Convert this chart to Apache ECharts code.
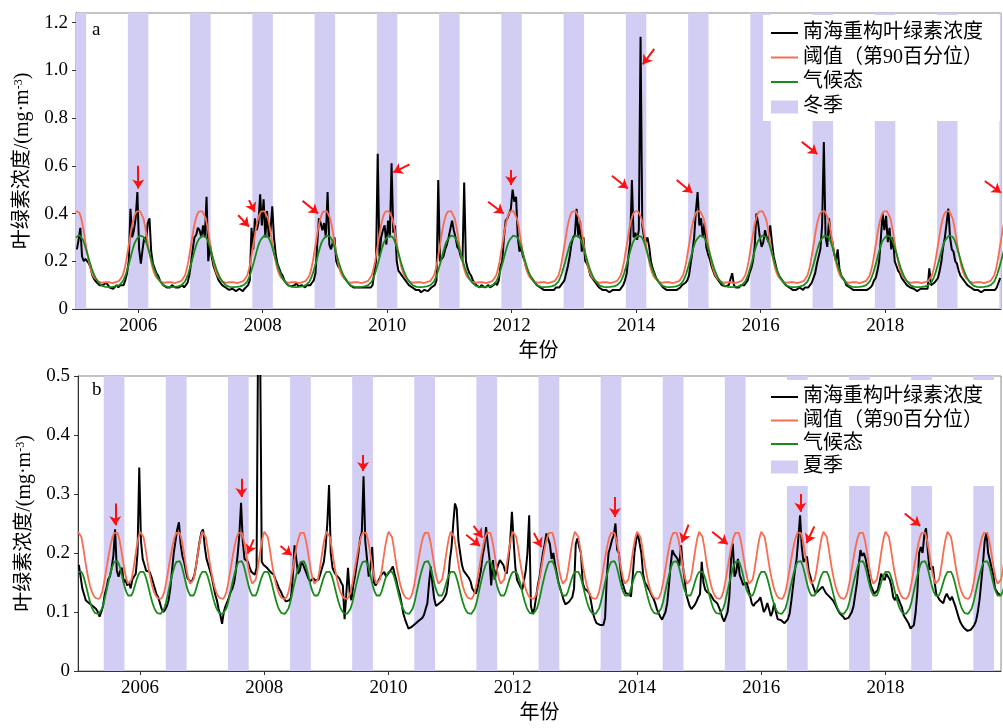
<!DOCTYPE html>
<html>
<head>
<meta charset="utf-8">
<script src="https://cdn.jsdelivr.net/npm/echarts@6/dist/echarts.min.js"></script>
<style>
  html, body { margin: 0; padding: 0; background: #fff; }
  #chart { width: 1003px; height: 728px; }
</style>
</head>
<body>
<div id="chart"></div>
<script>
// ---- time axis ----
const tickYears = [2006, 2008, 2010, 2012, 2014, 2016, 2018];
const firstYear = 2005;
const lastX = 2019.86;
const samplesPerYear = 36;

// ---- annual cycles (36 steps from 1 Jan) ----
// winter-bloom region: 90th percentile threshold and climatology
const thresholdWinter = [0.41,0.41,0.403,0.38,0.345,0.30,0.255,0.215,0.18,0.155,0.138,0.128,0.12,0.115,0.112,0.11,0.11,0.112,
  0.115,0.113,0.11,0.108,0.11,0.113,0.115,0.118,0.125,0.14,0.165,0.20,0.245,0.29,0.335,0.37,0.395,0.408];
const climWinter = [0.30,0.308,0.31,0.302,0.29,0.27,0.245,0.22,0.195,0.172,0.152,0.135,0.122,0.112,0.104,0.098,0.095,0.093,
  0.092,0.092,0.092,0.093,0.094,0.095,0.097,0.10,0.106,0.115,0.13,0.15,0.175,0.20,0.228,0.255,0.278,0.292];
// summer-bloom region: 90th percentile threshold and climatology
const thresholdSummer = [0.236,0.235,0.227,0.21,0.19,0.172,0.157,0.144,0.135,0.128,0.124,0.122,0.122,0.126,0.134,0.148,0.165,0.183,
  0.20,0.215,0.227,0.234,0.237,0.234,0.223,0.207,0.188,0.17,0.156,0.148,0.147,0.155,0.17,0.19,0.21,0.226];
const climSummer = [0.168,0.17,0.168,0.162,0.152,0.14,0.128,0.117,0.108,0.102,0.098,0.097,0.097,0.10,0.106,0.116,0.129,0.143,
  0.156,0.168,0.178,0.185,0.188,0.186,0.179,0.168,0.155,0.143,0.134,0.128,0.126,0.128,0.135,0.145,0.155,0.163];

// ---- reconstructed chlorophyll-a (mg·m^-3), one row per year, 36 samples per year ----
const chlWinterPanel = [
  /*2005*/ [0.25,0.29,0.34,0.22,0.2,0.21,0.2,0.19,0.17,0.14,0.125,0.115,0.11,0.1,0.1,0.1,0.095,0.11,0.1,0.09,0.095,0.085,0.09,0.1,0.09,0.1,0.095,0.1,0.12,0.15,0.2,0.42,0.3,0.33,0.38,0.49],
  /*2006*/ [0.25,0.19,0.25,0.3,0.28,0.36,0.38,0.24,0.19,0.17,0.15,0.14,0.12,0.11,0.1,0.1,0.09,0.085,0.09,0.1,0.095,0.09,0.085,0.09,0.095,0.1,0.09,0.1,0.11,0.14,0.19,0.25,0.3,0.31,0.34,0.33],
  /*2007*/ [0.3,0.35,0.3,0.47,0.2,0.27,0.22,0.18,0.16,0.14,0.12,0.11,0.1,0.095,0.09,0.085,0.08,0.075,0.085,0.08,0.075,0.08,0.085,0.08,0.075,0.085,0.09,0.1,0.12,0.34,0.25,0.38,0.33,0.36,0.48,0.35],
  /*2008*/ [0.46,0.3,0.41,0.3,0.33,0.43,0.3,0.23,0.19,0.17,0.15,0.14,0.12,0.11,0.1,0.1,0.095,0.09,0.1,0.11,0.095,0.09,0.1,0.095,0.09,0.1,0.095,0.1,0.11,0.12,0.15,0.27,0.38,0.36,0.33,0.36],
  /*2009*/ [0.3,0.49,0.27,0.25,0.28,0.3,0.2,0.18,0.17,0.15,0.14,0.13,0.12,0.11,0.1,0.1,0.09,0.085,0.09,0.095,0.09,0.085,0.09,0.085,0.09,0.095,0.09,0.1,0.15,0.2,0.65,0.22,0.3,0.33,0.35,0.27],
  /*2010*/ [0.37,0.3,0.61,0.32,0.35,0.2,0.16,0.15,0.14,0.13,0.12,0.11,0.1,0.095,0.09,0.085,0.08,0.075,0.08,0.07,0.075,0.08,0.085,0.075,0.08,0.09,0.085,0.1,0.12,0.54,0.2,0.21,0.22,0.25,0.27,0.3],
  /*2011*/ [0.3,0.37,0.33,0.3,0.26,0.25,0.22,0.2,0.53,0.2,0.17,0.15,0.14,0.12,0.11,0.1,0.095,0.09,0.1,0.095,0.09,0.095,0.1,0.09,0.095,0.1,0.11,0.1,0.12,0.18,0.2,0.3,0.37,0.38,0.4,0.42],
  /*2012*/ [0.5,0.45,0.47,0.3,0.24,0.26,0.22,0.2,0.17,0.15,0.14,0.13,0.12,0.11,0.1,0.095,0.09,0.085,0.08,0.085,0.08,0.075,0.08,0.085,0.08,0.09,0.085,0.09,0.1,0.11,0.12,0.15,0.18,0.22,0.27,0.3],
  /*2013*/ [0.31,0.42,0.3,0.37,0.24,0.3,0.2,0.19,0.17,0.14,0.13,0.12,0.11,0.1,0.09,0.085,0.08,0.075,0.08,0.075,0.07,0.075,0.08,0.075,0.08,0.085,0.08,0.09,0.1,0.12,0.15,0.22,0.28,0.54,0.3,0.32],
  /*2014*/ [0.29,0.33,1.14,0.35,0.3,0.28,0.3,0.26,0.2,0.17,0.15,0.13,0.12,0.11,0.1,0.09,0.085,0.08,0.075,0.08,0.085,0.08,0.075,0.08,0.085,0.09,0.1,0.095,0.11,0.12,0.14,0.19,0.24,0.3,0.41,0.49],
  /*2015*/ [0.35,0.38,0.3,0.36,0.26,0.23,0.21,0.18,0.16,0.14,0.13,0.12,0.11,0.1,0.1,0.095,0.09,0.1,0.095,0.15,0.1,0.09,0.095,0.09,0.1,0.095,0.1,0.11,0.12,0.15,0.17,0.2,0.26,0.4,0.36,0.3],
  /*2016*/ [0.26,0.28,0.33,0.3,0.28,0.35,0.28,0.22,0.19,0.16,0.14,0.13,0.12,0.11,0.1,0.095,0.09,0.085,0.08,0.085,0.08,0.085,0.09,0.085,0.08,0.09,0.085,0.09,0.1,0.11,0.13,0.15,0.19,0.22,0.25,0.35],
  /*2017*/ [0.7,0.3,0.26,0.38,0.3,0.28,0.23,0.2,0.25,0.17,0.14,0.13,0.12,0.1,0.095,0.09,0.085,0.08,0.075,0.08,0.085,0.08,0.075,0.08,0.085,0.08,0.085,0.09,0.1,0.12,0.13,0.16,0.2,0.3,0.4,0.33],
  /*2018*/ [0.39,0.28,0.34,0.25,0.3,0.2,0.18,0.16,0.15,0.13,0.12,0.11,0.1,0.095,0.09,0.09,0.085,0.08,0.075,0.08,0.085,0.08,0.085,0.08,0.085,0.17,0.1,0.1,0.11,0.12,0.13,0.16,0.2,0.26,0.3,0.36],
  /*2019*/ [0.42,0.3,0.25,0.24,0.2,0.19,0.16,0.14,0.13,0.12,0.11,0.1,0.095,0.09,0.085,0.08,0.075,0.08,0.075,0.07,0.075,0.08,0.075,0.08,0.075,0.08,0.085,0.08,0.09,0.11,0.13]
];
const chlSummerPanel = [
  /*2005*/ [0.18,0.16,0.14,0.13,0.12,0.12,0.115,0.118,0.11,0.112,0.105,0.1,0.092,0.1,0.11,0.13,0.14,0.155,0.16,0.175,0.195,0.24,0.17,0.16,0.17,0.175,0.15,0.155,0.145,0.15,0.14,0.155,0.16,0.165,0.2,0.345],
  /*2006*/ [0.22,0.19,0.18,0.17,0.172,0.168,0.16,0.15,0.14,0.13,0.125,0.115,0.105,0.1,0.104,0.11,0.12,0.14,0.17,0.2,0.22,0.24,0.252,0.215,0.195,0.185,0.17,0.157,0.155,0.15,0.155,0.163,0.18,0.2,0.22,0.235],
  /*2007*/ [0.24,0.21,0.19,0.18,0.17,0.16,0.145,0.13,0.12,0.105,0.095,0.08,0.1,0.11,0.117,0.125,0.134,0.14,0.15,0.17,0.196,0.23,0.285,0.22,0.19,0.19,0.185,0.175,0.168,0.165,0.163,0.175,0.62,0.57,0.185,0.18],
  /*2008*/ [0.18,0.175,0.172,0.168,0.165,0.163,0.155,0.148,0.14,0.135,0.128,0.123,0.118,0.117,0.12,0.125,0.16,0.213,0.19,0.165,0.17,0.185,0.18,0.178,0.165,0.157,0.152,0.15,0.157,0.153,0.15,0.155,0.165,0.175,0.185,0.21],
  /*2009*/ [0.25,0.315,0.2,0.175,0.168,0.163,0.16,0.157,0.15,0.145,0.088,0.13,0.175,0.13,0.12,0.145,0.16,0.18,0.2,0.225,0.235,0.33,0.22,0.19,0.16,0.175,0.21,0.15,0.145,0.15,0.155,0.162,0.165,0.168,0.16,0.158],
  /*2010*/ [0.168,0.172,0.177,0.165,0.154,0.14,0.13,0.115,0.098,0.088,0.08,0.072,0.069,0.075,0.072,0.08,0.078,0.085,0.084,0.09,0.095,0.105,0.115,0.15,0.177,0.145,0.122,0.11,0.112,0.115,0.118,0.12,0.125,0.131,0.15,0.188],
  /*2011*/ [0.21,0.25,0.284,0.275,0.22,0.2,0.18,0.17,0.166,0.165,0.158,0.152,0.14,0.135,0.131,0.14,0.155,0.17,0.195,0.21,0.244,0.215,0.19,0.145,0.188,0.155,0.17,0.18,0.188,0.185,0.18,0.17,0.165,0.19,0.22,0.27],
  /*2012*/ [0.22,0.175,0.154,0.148,0.142,0.138,0.14,0.17,0.2,0.264,0.11,0.098,0.105,0.125,0.145,0.16,0.18,0.2,0.215,0.233,0.236,0.215,0.19,0.2,0.18,0.165,0.15,0.14,0.13,0.12,0.113,0.115,0.117,0.118,0.125,0.14],
  /*2013*/ [0.215,0.225,0.21,0.2,0.15,0.14,0.137,0.135,0.131,0.115,0.098,0.088,0.081,0.079,0.078,0.078,0.078,0.09,0.16,0.2,0.21,0.222,0.23,0.25,0.205,0.2,0.17,0.15,0.14,0.132,0.131,0.13,0.126,0.16,0.2,0.222],
  /*2014*/ [0.233,0.235,0.2,0.165,0.15,0.146,0.14,0.135,0.128,0.123,0.115,0.105,0.098,0.092,0.087,0.088,0.1,0.115,0.145,0.18,0.205,0.198,0.2,0.19,0.178,0.213,0.18,0.158,0.13,0.12,0.11,0.105,0.108,0.112,0.118,0.125],
  /*2015*/ [0.13,0.185,0.15,0.138,0.134,0.133,0.13,0.125,0.12,0.118,0.115,0.108,0.1,0.09,0.084,0.085,0.1,0.125,0.19,0.216,0.16,0.168,0.19,0.163,0.155,0.146,0.148,0.15,0.14,0.128,0.115,0.11,0.115,0.117,0.12,0.125],
  /*2016*/ [0.128,0.1,0.105,0.115,0.105,0.093,0.1,0.115,0.1,0.088,0.086,0.086,0.083,0.081,0.081,0.088,0.098,0.12,0.145,0.17,0.19,0.225,0.264,0.21,0.185,0.185,0.194,0.17,0.16,0.148,0.14,0.132,0.135,0.137,0.14,0.143],
  /*2017*/ [0.142,0.132,0.13,0.126,0.124,0.12,0.115,0.109,0.103,0.098,0.095,0.092,0.088,0.086,0.09,0.092,0.1,0.11,0.13,0.15,0.18,0.205,0.195,0.2,0.19,0.175,0.16,0.145,0.138,0.131,0.133,0.137,0.15,0.165,0.158,0.154],
  /*2018*/ [0.165,0.165,0.155,0.143,0.125,0.12,0.13,0.13,0.115,0.108,0.095,0.09,0.085,0.08,0.072,0.07,0.078,0.1,0.135,0.2,0.21,0.2,0.23,0.242,0.205,0.172,0.175,0.177,0.15,0.13,0.125,0.12,0.118,0.115,0.125,0.131],
  /*2019*/ [0.125,0.12,0.126,0.124,0.11,0.1,0.09,0.082,0.077,0.073,0.07,0.068,0.065,0.07,0.074,0.078,0.085,0.1,0.12,0.15,0.182,0.22,0.235,0.2,0.188,0.175,0.163,0.14,0.14,0.13,0.13]
];

// ---- seasons [start, end] in decimal years ----
const winterBands = [[2004.833,2005.162],[2005.833,2006.162],[2006.833,2007.162],[2007.833,2008.162],[2008.833,2009.162],
  [2009.833,2010.162],[2010.833,2011.162],[2011.833,2012.162],[2012.833,2013.162],[2013.833,2014.162],[2014.833,2015.162],
  [2015.833,2016.162],[2016.833,2017.162],[2017.833,2018.162],[2018.833,2019.162],[2019.833,2020.162]];
const summerBands = [[2005.414,2005.748],[2006.414,2006.748],[2007.414,2007.748],[2008.414,2008.748],[2009.414,2009.748],
  [2010.414,2010.748],[2011.414,2011.748],[2012.414,2012.748],[2013.414,2013.748],[2014.414,2014.748],[2015.414,2015.748],
  [2016.414,2016.748],[2017.414,2017.748],[2018.414,2018.748],[2019.414,2019.748]];

// ---- event arrows [tailX, tailY, headX, headY] ----
const arrowsWinter = [[2006.0,0.60,2006.0,0.505],[2007.605,0.393,2007.78,0.345],[2007.78,0.456,2007.87,0.407],
  [2008.64,0.453,2008.89,0.40],[2010.36,0.606,2010.10,0.572],[2011.99,0.582,2011.99,0.519],[2011.62,0.449,2011.87,0.40],
  [2013.61,0.558,2013.865,0.505],[2014.29,1.09,2014.106,1.025],[2014.65,0.54,2014.90,0.487],[2016.66,0.70,2016.91,0.649],
  [2019.6,0.536,2019.86,0.487]];
const arrowsSummer = [[2005.60,0.284,2005.60,0.247],[2007.63,0.326,2007.63,0.295],[2007.83,0.223,2007.73,0.199],
  [2008.26,0.212,2008.44,0.196],[2009.59,0.366,2009.59,0.339],[2011.37,0.246,2011.51,0.226],[2011.25,0.231,2011.47,0.212],
  [2012.34,0.234,2012.46,0.21],[2013.645,0.295,2013.645,0.261],[2014.83,0.248,2014.72,0.218],[2015.21,0.236,2015.46,0.215],
  [2016.63,0.30,2016.63,0.27],[2016.855,0.245,2016.73,0.217],[2018.31,0.267,2018.56,0.246]];

// ---- styling ----
const serif = "'Liberation Serif', 'Noto Sans CJK SC', serif";
const bandColor = 'rgb(210,205,243)';
const redColor = '#f86c51';
const greenColor = '#1a8a1a';
const axisColor = '#333';

const NAME_CHL = '南海重构叶绿素浓度';
const NAME_THR = '阈值（第90百分位）';
const NAME_CLIM = '气候态';

function chlPoints(rows) {
  const pts = [];
  rows.forEach((row, i) => row.forEach((v, k) => pts.push([firstYear + i + (k + 0.5) / samplesPerYear, v])));
  return pts;
}
function cyclePoints(cycle, nYears) {
  const pts = [];
  for (let i = 0; i < nYears; i++) cycle.forEach((v, k) => pts.push([firstYear + i + k / cycle.length, v]));
  pts.push([firstYear + nYears, cycle[0]]);
  return pts;
}
function bandRenderer(params, api) {
  const cs = params.coordSys;
  const x0 = api.coord([api.value(0), 0])[0];
  const x1 = api.coord([api.value(1), 0])[0];
  const l = Math.max(x0, cs.x), r = Math.min(x1, cs.x + cs.width);
  if (r <= l) return;
  return { type: 'rect', shape: { x: l, y: cs.y, width: r - l, height: cs.height },
           style: { fill: bandColor } };
}
function timeAxis(gridIndex) {
  return {
    type: 'value', gridIndex, min: firstYear, max: lastX,
    name: '年份', nameLocation: 'middle', nameGap: 33,
    nameTextStyle: { fontFamily: serif, fontSize: 20, color: '#000' },
    axisLine: { show: true, onZero: false, lineStyle: { color: axisColor, width: 1 } },
    axisTick: { show: true, customValues: tickYears, length: 4, lineStyle: { color: axisColor } },
    axisLabel: { customValues: tickYears, fontFamily: serif, fontSize: 19, color: '#000', margin: 8,
      formatter: v => String(Math.round(v)) },
    splitLine: { show: false }
  };
}
function chlAxis(gridIndex, max, interval, showMax) {
  return {
    type: 'value', gridIndex, min: 0, max, interval,
    name: '叶绿素浓度/(mg·m{sup|-3})', nameLocation: 'middle', nameGap: 43,
    nameTextStyle: { fontFamily: serif, fontSize: 20, color: '#000',
      rich: { sup: { fontFamily: serif, fontSize: 12, color: '#000', verticalAlign: 'top' } } },
    axisLine: { show: true, lineStyle: { color: axisColor, width: 1 } },
    axisTick: { show: true, length: 4, lineStyle: { color: axisColor } },
    axisLabel: { fontFamily: serif, fontSize: 19, color: '#000', margin: 8, showMaxLabel: showMax,
      formatter: v => (v === 0 ? '0' : v.toFixed(1)) },
    splitLine: { show: false }
  };
}
const legendText = { fontFamily: serif, fontSize: 20, color: '#000', lineHeight: 20 };
function lineLegend(top, gap) {
  return {
    orient: 'vertical', left: 771, top, padding: 0, itemWidth: 27, itemHeight: 2, itemGap: gap,
    icon: 'rect', textStyle: legendText, data: [NAME_CHL, NAME_THR, NAME_CLIM], selectedMode: false, z: 200
  };
}
function seasonLegend(top, name) {
  return {
    orient: 'vertical', left: 771, top, padding: 0, itemWidth: 27, itemHeight: 13,
    icon: 'rect', textStyle: legendText, data: [name], selectedMode: false, z: 200
  };
}
function panelSeries(idx, seasonName, bands, chlRows, thr, clim, arrows) {
  const nYears = chlRows.length;
  return [
    { type: 'custom', name: seasonName, xAxisIndex: idx, yAxisIndex: idx, data: bands,
      renderItem: bandRenderer, itemStyle: { color: bandColor }, silent: true, z: 1 },
    { type: 'line', name: NAME_CHL, xAxisIndex: idx, yAxisIndex: idx, data: chlPoints(chlRows),
      symbol: 'none', showSymbol: false, lineStyle: { color: '#000', width: 2 }, itemStyle: { color: '#000' }, z: 2 },
    { type: 'line', name: NAME_THR, xAxisIndex: idx, yAxisIndex: idx, data: cyclePoints(thr, nYears),
      symbol: 'none', showSymbol: false, lineStyle: { color: redColor, width: 1.8 }, itemStyle: { color: redColor }, z: 3 },
    { type: 'line', name: NAME_CLIM, xAxisIndex: idx, yAxisIndex: idx, data: cyclePoints(clim, nYears),
      symbol: 'none', showSymbol: false, lineStyle: { color: greenColor, width: 1.8 }, itemStyle: { color: greenColor }, z: 4 },
    { type: 'lines', coordinateSystem: 'cartesian2d', xAxisIndex: idx, yAxisIndex: idx,
      data: arrows.map(a => ({ coords: [[a[0], a[1]], [a[2], a[3]]] })),
      symbol: ['none', 'arrow'], symbolSize: 9, lineStyle: { color: '#ff1010', width: 2, opacity: 1 }, silent: true, z: 5 }
  ];
}

const chart = echarts.init(document.getElementById('chart'), null, { renderer: 'canvas' });
chart.setOption({
  animation: false,
  backgroundColor: '#fff',
  grid: [
    { left: 76, right: 2, top: 13, height: 296, show: true, borderColor: '#888', borderWidth: 1, backgroundColor: 'transparent' },
    { left: 78, right: 2, top: 376, height: 295, show: true, borderColor: '#888', borderWidth: 1, backgroundColor: 'transparent' }
  ],
  xAxis: [timeAxis(0), timeAxis(1)],
  yAxis: [chlAxis(0, 1.24, 0.2, false), chlAxis(1, 0.5, 0.1, true)],
  legend: [
    lineLegend(23, 4.5), seasonLegend(97, '冬季'),
    lineLegend(387, 3.5), seasonLegend(457, '夏季')
  ],
  graphic: [
    // white legend panels
    { type: 'rect', shape: { x: 763, y: 15, width: 237, height: 106 }, style: { fill: '#fff' }, z: 100, silent: true },
    { type: 'rect', shape: { x: 763, y: 380, width: 237, height: 106 }, style: { fill: '#fff' }, z: 100, silent: true },
    // panel tags
    { type: 'text', left: 92, top: 21, style: { text: 'a', font: "19px 'Liberation Serif'", fill: '#000' }, z: 10 },
    { type: 'text', left: 92, top: 381, style: { text: 'b', font: "19px 'Liberation Serif'", fill: '#000' }, z: 10 }
  ],
  series: [
    ...panelSeries(0, '冬季', winterBands, chlWinterPanel, thresholdWinter, climWinter, arrowsWinter),
    ...panelSeries(1, '夏季', summerBands, chlSummerPanel, thresholdSummer, climSummer, arrowsSummer)
  ]
});
</script>
</body>
</html>
